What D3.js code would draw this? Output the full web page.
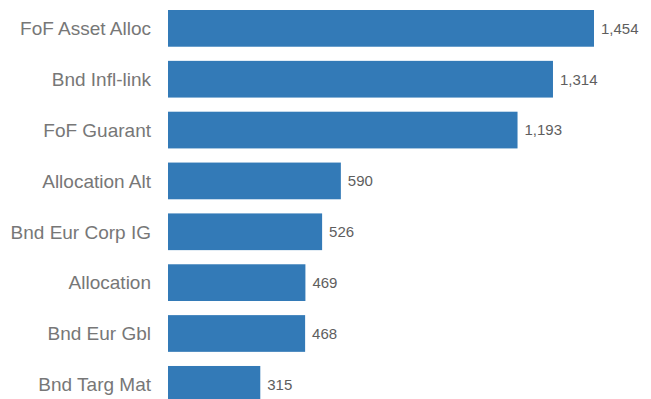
<!DOCTYPE html>
<html>
<head>
<meta charset="utf-8">
<script src="https://cdn.jsdelivr.net/npm/d3@7"></script>
<style>
  body { margin: 0; background: #fff; }
  svg { display: block; font-family: "Liberation Sans", Arial, sans-serif; }
</style>
</head>
<body>
<svg id="chart" width="651" height="399"></svg>
<script>
const categories = ['FoF Asset Alloc', 'Bnd Infl-link', 'FoF Guarant', 'Allocation Alt', 'Bnd Eur Corp IG', 'Allocation', 'Bnd Eur Gbl', 'Bnd Targ Mat']
const values = [1454, 1314, 1193, 590, 526, 469, 468, 315]

const svg = d3.select('#chart')
const margin = { top: 10, left: 168 }

const x = d3.scaleLinear().domain([0, 1454]).range([margin.left, 594])
const y = d3.scaleBand()
  .domain(categories)
  .range([margin.top, 402.7])
  .paddingInner(0.278)
  .paddingOuter(0)

const fmt = d3.format(',')

svg.append('g')
  .selectAll('rect')
  .data(values)
  .enter()
  .append('rect')
  .attr('x', x(0))
  .attr('y', (d, i) => y(categories[i]))
  .attr('width', (d) => x(d) - x(0))
  .attr('height', y.bandwidth())
  .attr('fill', '#337ab7')

// category labels
svg.append('g')
  .selectAll('text')
  .data(categories)
  .enter()
  .append('text')
  .attr('x', margin.left - 17)
  .attr('y', (d) => y(d) + y.bandwidth() / 2)
  .attr('dy', '0.36em')
  .attr('text-anchor', 'end')
  .attr('font-size', 19)
  .attr('fill', '#777')
  .text((d) => d)

// value labels
svg.append('g')
  .selectAll('text')
  .data(values)
  .enter()
  .append('text')
  .attr('x', (d) => x(d) + 7)
  .attr('y', (d, i) => y(categories[i]) + y.bandwidth() / 2)
  .attr('dy', '0.36em')
  .attr('font-size', 15)
  .attr('fill', '#5e5e5e')
  .text((d) => fmt(d))
</script>
</body>
</html>
